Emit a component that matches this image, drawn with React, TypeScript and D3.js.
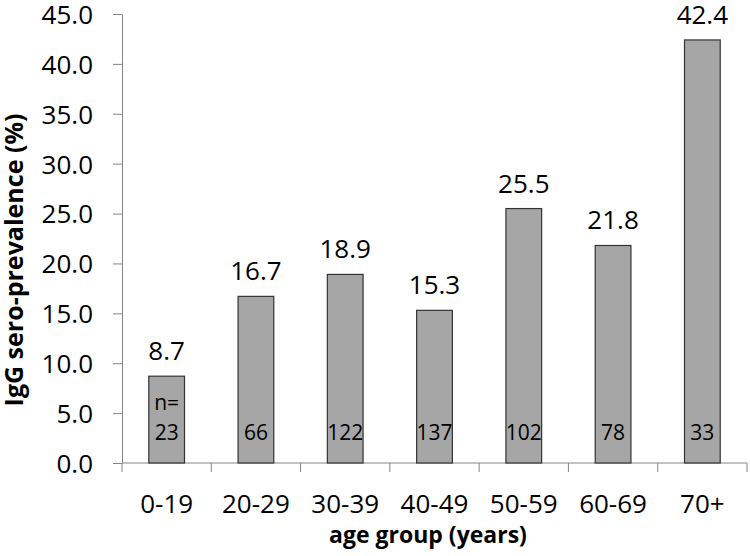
import React, { useEffect, useRef } from 'react'
import * as d3 from 'd3'

const ageGroups = ['0-19', '20-29', '30-39', '40-49', '50-59', '60-69', '70+']
const prevalence = [8.7, 16.7, 18.9, 15.3, 25.5, 21.8, 42.4]
const sampleSizes = ['23', '66', '122', '137', '102', '78', '33']
const yTicks = [0, 5, 10, 15, 20, 25, 30, 35, 40, 45]

const W = 750
const H = 556
const FONT = '"Open Sans", sans-serif'

const App = () => {
  const svgRef = useRef<SVGSVGElement>(null)

  useEffect(() => {
    const svg = d3.select(svgRef.current)
    svg.selectAll('*').remove()

    const left = 122
    const right = 747
    const top = 14
    const bottom = 463

    const x = d3.scaleBand().domain(ageGroups).range([left, right]).padding(0)
    const y = d3.scaleLinear().domain([0, 45]).range([bottom, top])
    const barW = x.bandwidth() * 0.4

    // y axis
    const yAxis = d3.axisLeft(y)
      .tickValues(yTicks)
      .tickFormat(d3.format('.1f'))
      .tickSize(9)
      .tickSizeOuter(0)
      .tickPadding(20)
    const gy = svg.append('g')
      .attr('transform', `translate(${left},0)`)
      .call(yAxis)
    gy.select('.domain').attr('stroke', '#868686')
    gy.selectAll('.tick line').attr('stroke', '#868686')
    gy.selectAll('.tick text')
      .attr('font-family', FONT)
      .attr('font-size', 26)
      .attr('fill', '#000')
      .attr('dy', '0.36em')

    // x axis: ticks on band boundaries
    svg.append('line')
      .attr('x1', left).attr('x2', right)
      .attr('y1', bottom).attr('y2', bottom)
      .attr('stroke', '#868686')
    const bounds = ageGroups.map(d => x(d) as number).concat([right])
    svg.selectAll('.xtick')
      .data(bounds)
      .join('line')
      .attr('class', 'xtick')
      .attr('x1', d => d).attr('x2', d => d)
      .attr('y1', bottom).attr('y2', bottom + 9)
      .attr('stroke', '#868686')
    svg.selectAll('.xlabel')
      .data(ageGroups)
      .join('text')
      .attr('class', 'xlabel')
      .attr('x', d => (x(d) as number) + x.bandwidth() / 2)
      .attr('y', 513)
      .attr('text-anchor', 'middle')
      .attr('font-family', FONT)
      .attr('font-size', 26)
      .text(d => d)

    // bars
    svg.selectAll('.bar')
      .data(prevalence)
      .join('rect')
      .attr('class', 'bar')
      .attr('x', (d, i) => (x(ageGroups[i]) as number) + (x.bandwidth() - barW) / 2)
      .attr('y', d => y(d))
      .attr('width', barW)
      .attr('height', d => y(0) - y(d))
      .attr('fill', '#a6a6a6')
      .attr('stroke', '#333')
      .attr('stroke-width', 1.2)

    // value labels
    svg.selectAll('.val')
      .data(prevalence)
      .join('text')
      .attr('class', 'val')
      .attr('x', (d, i) => (x(ageGroups[i]) as number) + x.bandwidth() / 2)
      .attr('y', d => y(d) - 16)
      .attr('text-anchor', 'middle')
      .attr('font-family', FONT)
      .attr('font-size', 26)
      .text(d => d.toFixed(1))

    // sample size labels
    svg.selectAll('.n')
      .data(sampleSizes)
      .join('text')
      .attr('class', 'n')
      .attr('x', (d, i) => (x(ageGroups[i]) as number) + x.bandwidth() / 2)
      .attr('y', bottom - 23)
      .attr('text-anchor', 'middle')
      .attr('font-family', FONT)
      .attr('font-size', 21)
      .text(d => d)
    svg.append('text')
      .attr('x', (x(ageGroups[0]) as number) + x.bandwidth() / 2)
      .attr('y', bottom - 53)
      .attr('text-anchor', 'middle')
      .attr('font-family', FONT)
      .attr('font-size', 21)
      .text('n=')

    // axis titles
    svg.append('text')
      .attr('x', 428)
      .attr('y', 543)
      .attr('text-anchor', 'middle')
      .attr('font-family', FONT)
      .attr('font-weight', 'bold')
      .attr('font-size', 23)
      .text('age group (years)')
    svg.append('text')
      .attr('transform', `translate(23,260) rotate(-90)`)
      .attr('text-anchor', 'middle')
      .attr('font-family', FONT)
      .attr('font-weight', 'bold')
      .attr('font-size', 25)
      .text('IgG sero-prevalence (%)')
  }, [])

  return (
    <svg ref={svgRef} width={W} height={H}
      style={{ position: 'absolute', left: 0, top: 0, background: '#fff' }} />
  )
}

export default App
